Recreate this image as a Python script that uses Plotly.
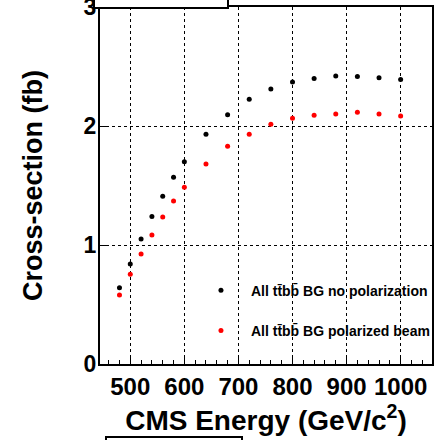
import plotly.graph_objects as go

energy = [480, 500, 520, 540, 560, 580, 600, 640, 680, 720, 760, 800, 840, 880, 920, 960, 1000]
xsec_nopol = [0.64, 0.84, 1.05, 1.24, 1.41, 1.57, 1.70, 1.93, 2.095, 2.225, 2.31, 2.37, 2.40, 2.42, 2.415, 2.405, 2.39]
xsec_pol = [0.58, 0.755, 0.925, 1.085, 1.235, 1.37, 1.485, 1.68, 1.83, 1.93, 2.015, 2.065, 2.09, 2.10, 2.115, 2.10, 2.085]
name_nopol = "All tt\u0304bb\u0304 BG no polarization"
name_pol = "All tt\u0304bb\u0304 BG polarized beam"
x_ticks = [500, 600, 700, 800, 900, 1000]
y_ticks = [0, 1, 2, 3]

fig = go.Figure()
fig.add_trace(go.Scatter(x=energy, y=xsec_nopol, mode="markers", name=name_nopol,
                         legendgroup="a",
                         marker=dict(color="black", size=5)))
fig.add_trace(go.Scatter(x=energy, y=xsec_pol, mode="markers", name=name_pol,
                         legendgroup="b",
                         marker=dict(color="#ff0000", size=5)))

axis_font = dict(family="Liberation Sans, Arial, sans-serif", color="black", weight="bold")

fig.update_layout(
    width=444, height=440,
    margin=dict(l=100, r=12, t=7, b=76, autoexpand=False),
    paper_bgcolor="white", plot_bgcolor="white",
    showlegend=True,
    legend=dict(x=0.274, y=0.25, xanchor="left", yanchor="top",
                bgcolor="rgba(0,0,0,0)", itemwidth=50, tracegroupgap=19,
                font=dict(family="Liberation Sans, Arial, sans-serif",
                          size=14, color="black", weight="bold")),
    xaxis=dict(range=[444, 1058], tickvals=x_ticks, ticktext=[str(v) for v in x_ticks],
               tickangle=0, automargin=False,
               ticks="inside", ticklen=7, tickwidth=1, tickcolor="black",
               minor=dict(dtick=20, tick0=0, ticks="inside", ticklen=4, tickcolor="black", showgrid=False),
               showline=True, linecolor="black", linewidth=2, mirror=True,
               showgrid=True, gridcolor="black", griddash="dot", gridwidth=1,
               zeroline=False,
               tickfont=dict(size=24, **axis_font),
               title=dict(text="CMS Energy (GeV/c<sup>2</sup>)", font=dict(size=28, **axis_font), standoff=8)),
    yaxis=dict(range=[0, 3.0001], tickvals=y_ticks, ticktext=[str(v) for v in y_ticks],
               automargin=False, ticklabeloverflow="allow", ticklabelstandoff=-3,
               ticks="inside", ticklen=9, tickwidth=1, tickcolor="black",
               showline=True, linecolor="black", linewidth=2, mirror=True,
               showgrid=True, gridcolor="black", griddash="dot", gridwidth=1,
               zeroline=False,
               tickfont=dict(size=23, **axis_font),
               title=dict(text="Cross-section (fb)", font=dict(size=27, **axis_font), standoff=33)),
    shapes=[
        dict(type="rect", xref="paper", yref="paper",
             x0=(94 - 100) / 332, x1=(228 - 100) / 332, y0=(364 - 8) / 357, y1=(364 + 10) / 357,
             line=dict(color="black", width=2), fillcolor="white", layer="above"),
        dict(type="rect", xref="paper", yref="paper",
             x0=(106 - 100) / 332, x1=(242 - 100) / 332, y0=(364 - 437) / 357, y1=(364 - 450) / 357,
             line=dict(color="black", width=2), fillcolor="white", layer="above"),
    ],
)

fig.write_html("out.html")
